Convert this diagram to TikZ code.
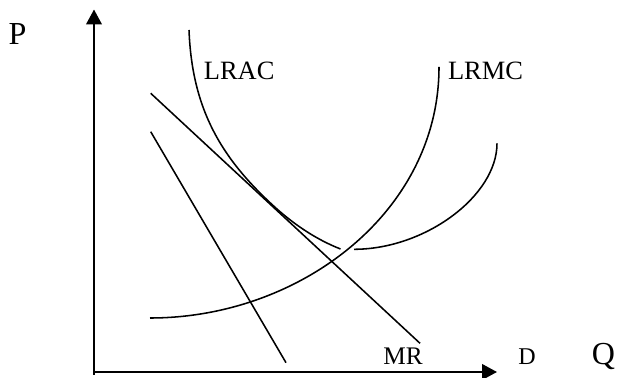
\documentclass[tikz,border=0pt]{standalone}
\usepackage{fontspec}
\setmainfont{Liberation Serif}
\usetikzlibrary{arrows.meta}
\begin{document}
\begin{tikzpicture}[x=1cm,y=1cm,
  axis/.style={line width=1.6pt,-{Triangle[length=0.375cm,width=0.39cm]}},
  curve/.style={line width=1.1pt},
  biglbl/.style={anchor=base,inner sep=0pt,font=\fontsize{22.8pt}{26pt}\selectfont},
  lbl/.style={anchor=base,inner sep=0pt,font=\fontsize{18.8pt}{22pt}\selectfont}]
\useasboundingbox (0,0) rectangle (15.425,9.45);

\coordinate (yfoot) at (2.35,0.075);
\coordinate (ytip) at (2.35,9.2125);
\coordinate (xfoot) at (2.325,0.15);
\coordinate (xtip) at (12.425,0.15);
\draw[axis] (yfoot) -- (ytip);
\draw[axis] (xfoot) -- (xtip);

\node[biglbl] (p) at (0.4375,8.325) {P};
\node[biglbl] (q) at (15.083,0.325) {Q};
\node[lbl,font=\fontsize{17.1pt}{20pt}\selectfont] (d) at (13.175,0.325) {D};
\node[lbl,font=\fontsize{18pt}{21pt}\selectfont] (mr) at (10.075,0.325) {MR};
\node[lbl] (lrac) at (5.98,7.45) {LRAC};
\node[lbl] (lrmc) at (12.1375,7.45) {LRMC};

\coordinate (dtop) at (3.7675,7.1175);
\coordinate (dbot) at (10.5,0.8675);
\draw[curve] (dtop) -- (dbot);

\coordinate (mrtop) at (3.7675,6.1575);
\coordinate (mrbot) at (7.15,0.3825);
\draw[curve] (mrtop) -- (mrbot);

\coordinate (mcleft) at (3.75,1.5);
\coordinate (mctop) at (10.975,7.775);
\draw[curve] (mcleft) .. controls (7.5,1.5) and (10.975,4.15) .. (mctop);

\coordinate (actop) at (4.725,8.7);
\coordinate (actouch) at (6.8,4.3375);
\coordinate (acend) at (8.5125,3.225);
\draw[curve] (actop) .. controls (4.8,6.7) and (5.55,5.4975) .. (actouch)
  .. controls (7.3,3.8725) and (7.875,3.475) .. (acend);

\coordinate (acmin) at (8.85,3.2175);
\coordinate (acright) at (12.425,5.8675);
\draw[curve] (acmin) .. controls (10.625,3.2175) and (12.425,4.55) .. (acright);
\end{tikzpicture}
\end{document}
